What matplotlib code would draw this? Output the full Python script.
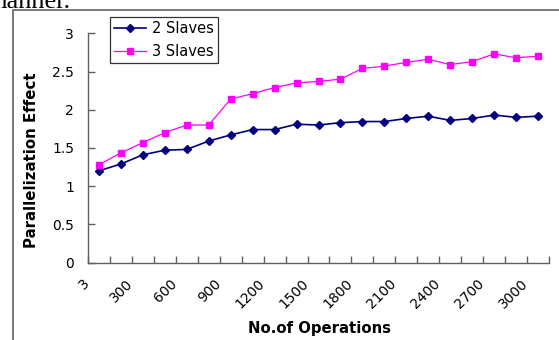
import matplotlib
matplotlib.use("Agg")
import matplotlib.pyplot as plt
import matplotlib.transforms as mtransforms
from matplotlib.lines import Line2D
import numpy as np

# Operation counts (x categories) and measured parallelization effect
operations = [3, 150, 300, 450, 600, 750, 900, 1050, 1200, 1350, 1500,
              1650, 1800, 1950, 2100, 2250, 2400, 2550, 2700, 2850, 3000]
slaves_2 = [1.20, 1.29, 1.41, 1.47, 1.48, 1.59, 1.67, 1.74, 1.74, 1.81, 1.80,
            1.83, 1.845, 1.845, 1.885, 1.915, 1.86, 1.885, 1.93, 1.90, 1.915]
slaves_3 = [1.28, 1.435, 1.57, 1.70, 1.80, 1.80, 2.14, 2.21, 2.29, 2.35, 2.37,
            2.40, 2.54, 2.57, 2.62, 2.66, 2.59, 2.63, 2.73, 2.68, 2.70]
series_names = ["2 Slaves", "3 Slaves"]
y_ticks = [0, 0.5, 1, 1.5, 2, 2.5, 3]
y_tick_labels = ["0", "0.5", "1", "1.5", "2", "2.5", "3"]

W, H, DPI = 559, 340, 100
fig = plt.figure(figsize=(W / DPI, H / DPI), dpi=DPI)
fig.patch.set_facecolor("white")

def px(x, y):
    return x / W, 1 - y / H

# surrounding document text and chart frame
fig.text(-14 / W, 1 - 8 / H, "manner.", family="Liberation Serif",
         fontsize=19, ha="left", va="baseline", color="black")
fig.add_artist(Line2D([12.5 / W, 12.5 / W, 1.0], [0.0, 1 - 9.5 / H, 1 - 9.5 / H],
                      transform=fig.transFigure, color="#6e6e6e", lw=1.3))

left, right = 88 / W, 549 / W
bottom, top = 1 - 262.5 / H, 1 - 33.3 / H
ax = fig.add_axes([left, bottom, right - left, top - bottom])

x = np.arange(len(operations))
ax.plot(x, slaves_2, color="#000080", marker="D", markersize=4.2, lw=1.2,
        label=series_names[0])
ax.plot(x, slaves_3, color="#FF00FF", marker="s", markersize=5, lw=0.9,
        label=series_names[1])

ax.set_xlim(-0.5, len(operations) - 0.5)
ax.set_ylim(0, 3)

for side in ("top", "right"):
    ax.spines[side].set_visible(False)
for side in ("left", "bottom"):
    ax.spines[side].set_color("#606060")
    ax.spines[side].set_linewidth(1.0)

ax.set_yticks(y_ticks)
ax.set_yticklabels(y_tick_labels)
ax.tick_params(axis="y", direction="in", length=5, width=1, color="#606060",
               pad=10, labelsize=10)

# category boundaries carry the tick marks, every other category is labelled
ax.set_xticks(x[::2])
ax.set_xticklabels([str(v) for v in operations[::2]], rotation=45, ha="right")
ax.tick_params(axis="x", which="major", length=0, pad=10, labelsize=10)
ax.set_xticks(np.arange(-0.5, len(operations), 1.0), minor=True)
ax.tick_params(axis="x", which="minor", direction="in", length=5, width=1,
               color="#606060")
offset = mtransforms.ScaledTranslation(-7 / DPI, 0, fig.dpi_scale_trans)
for lbl in ax.get_xticklabels():
    lbl.set_transform(lbl.get_transform() + offset)

ax.set_ylabel("Parallelization Effect", fontsize=10.8, fontweight="bold")
ax.yaxis.set_label_coords(32 / W, 1 - 160 / H, transform=fig.transFigure)
ax.set_xlabel("No.of Operations", fontsize=10.7, fontweight="bold")
ax.xaxis.set_label_coords(319 / W, 1 - 329 / H, transform=fig.transFigure)
ax.xaxis.label.set_va("center")
ax.yaxis.label.set_va("center")

leg = ax.legend(loc="upper left", bbox_to_anchor=px(110, 17),
                bbox_transform=fig.transFigure, fontsize=10.5, frameon=True,
                fancybox=False, edgecolor="black", handlelength=2.2,
                handletextpad=0.35, labelspacing=0.5, borderpad=0.3,
                borderaxespad=0)
leg.get_frame().set_linewidth(0.9)

fig.savefig("out.png", dpi=DPI, facecolor="white")
